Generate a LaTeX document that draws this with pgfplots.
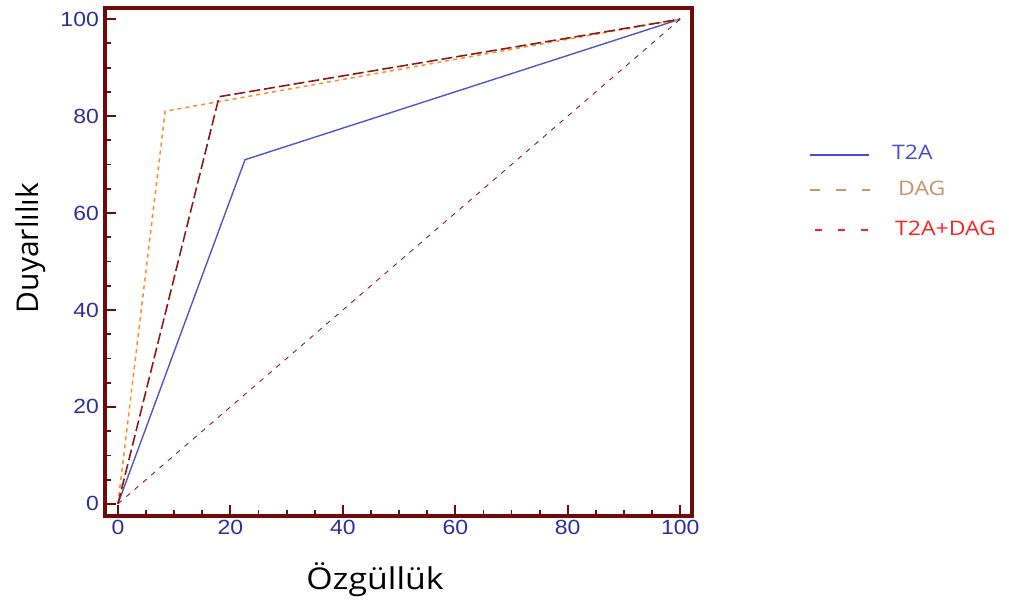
\documentclass[border=0pt]{standalone}
\usepackage{fontspec}
\setmainfont{Open Sans}
\newfontfamily\tickfont{Liberation Sans}
\usepackage{pgfplots}
\pgfplotsset{compat=1.18}
\definecolor{framecol}{HTML}{6E0A0A}
\definecolor{tickblue}{HTML}{2E2E9E}
\definecolor{lineblue}{HTML}{5555C4}
\definecolor{lineorange}{HTML}{FF8A28}
\definecolor{linemaroon}{HTML}{8B1A1A}
\definecolor{legblue}{HTML}{4B4BD0}
\definecolor{legtan}{HTML}{C8956A}
\definecolor{legred}{HTML}{FF2020}
\begin{document}
\begin{tikzpicture}[x=1pt,y=1pt]
\useasboundingbox (0,0) rectangle (1009,605);
\begin{axis}[at={(105pt,89pt)}, anchor=south west, scale only axis,
  width=587pt, height=508pt,
  xmin=-2.3, xmax=102.1, ymin=-2.5, ymax=102.3,
  axis line style={color=framecol, line width=3.8pt},
  xtick={0,20,...,100}, ytick={0,20,...,100}, minor tick num=3,
  tick style={color=framecol, line width=1.8pt},
  major tick length=11pt, minor tick length=6pt,
  tick align=inside, xtick pos=bottom, ytick pos=left,
  ticklabel style={font=\tickfont\fontsize{20.5}{20.5}\selectfont, text=tickblue, xscale=1.12},
  /pgf/number format/assume math mode=true,
  yticklabel style={xshift=-2pt},
  xticklabel style={yshift=-1pt},
  clip=false,
]
\addplot[linemaroon, line width=0.9pt, dash pattern=on 5pt off 6pt] coordinates {(0,0) (100,100)};
\addplot[lineblue, line width=1.4pt] coordinates {(0,0) (22.6,71) (100,100)};
\addplot[lineorange, line width=1.5pt, dash pattern=on 4pt off 4pt] coordinates {(0,0) (8.4,81) (100,100)};
\addplot[linemaroon, line width=1.6pt, dash pattern=on 11pt off 4pt] coordinates {(0,0) (18,84) (100,100)};
\end{axis}
\node[anchor=base, inner sep=0pt, xscale=1.13, font=\fontsize{30}{30}\selectfont] at (375,16) {Özgüllük};
\node[anchor=base, inner sep=0pt, rotate=90, font=\fontsize{30}{30}\selectfont] at (38,357) {Duyarlılık};
% legend
\draw[legblue, line width=1.3pt] (810,450) -- (869,450);
\node[anchor=base west, inner sep=0pt, xscale=1.15, text=legblue, font=\fontsize{20}{20}\selectfont] at (892,445) {T2A};
\draw[legtan, line width=1.3pt, dash pattern=on 10pt off 16pt] (810,415) -- (870,415);
\node[anchor=base west, inner sep=0pt, xscale=1.15, text=legtan, font=\fontsize{20}{20}\selectfont] at (898,409) {DAG};
\draw[legred, line width=1.3pt, dash pattern=on 7pt off 16pt] (815,375) -- (872,375);
\node[anchor=base west, inner sep=0pt, xscale=1.15, text=legred, font=\fontsize{20}{20}\selectfont] at (895,369) {T2A+DAG};
\end{tikzpicture}
\end{document}
